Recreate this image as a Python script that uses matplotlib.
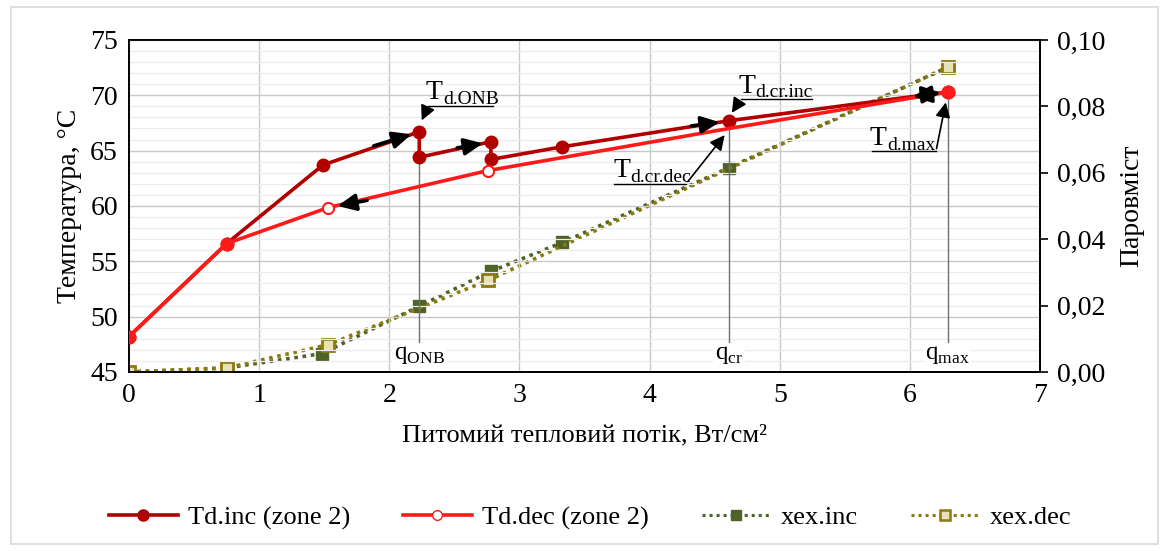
import numpy as np
import matplotlib
matplotlib.use("Agg")
import matplotlib.pyplot as plt
from matplotlib.patches import Rectangle
from matplotlib.lines import Line2D

plt.rcParams['font.family'] = ['Liberation Serif', 'DejaVu Serif']
plt.rcParams['mathtext.fontset'] = 'custom'
plt.rcParams['mathtext.rm'] = 'Liberation Serif'

# data
q_inc = [0, 0.75, 1.49, 2.23, 2.23, 2.78, 2.78, 3.33, 4.61, 6.29]
td_inc = [48.2, 56.6, 63.7, 66.7, 64.4, 65.8, 64.2, 65.35, 67.7, 70.3]
q_dec = [6.29, 4.61, 2.76, 1.53, 0.75, 0]
td_dec = [70.3, 67.0, 63.2, 59.85, 56.6, 48.2]

qx_inc = [0, 0.75, 1.48, 2.23, 2.78, 3.33, 4.61, 6.29]
xex_inc = [0.0, 0.0012, 0.0055, 0.0198, 0.0303, 0.039, 0.0615, 0.0918]
qx_dec = [6.29, 2.76, 1.53, 0.75, 0]
xex_dec = [0.0918, 0.0276, 0.0082, 0.0012, 0.0]

c_inc = '#b00000'
c_dec = '#ff1a1a'
c_xinc = '#4f6228'
c_xdec = '#8a7a10'

fig = plt.figure(figsize=(11.69, 5.51), dpi=100)
fig.patches.append(Rectangle((0.009, 0.012), 0.982, 0.975, transform=fig.transFigure,
                             fill=False, edgecolor='#d9d9d9', lw=1.2))
ax = fig.add_axes([0.1104, 0.325, 0.7793, 0.6025])
ax2 = ax.twinx()

ax.set_xlim(0, 7)
ax.set_ylim(45, 75)
ax2.set_ylim(0, 0.10)
ax.set_xticks(range(0, 8))
ax.set_yticks(range(45, 76, 5))
ax.set_yticks(range(45, 76, 1), minor=True)
ax.grid(which='major', color='#c8c8c8', lw=1.0)
ax.grid(which='minor', axis='y', color='#ececec', lw=0.9)
ax.set_axisbelow(True)
ax.tick_params(axis='both', which='both', length=0, labelsize=20, pad=8)
ax2.set_yticks(np.arange(0, 0.101, 0.02))
ax2.set_yticklabels([f'{v:.2f}'.replace('.', ',') for v in np.arange(0, 0.101, 0.02)])
ax2.tick_params(axis='y', length=6, width=1.2, labelsize=20, pad=6)
for a in (ax, ax2):
    for s in a.spines.values():
        s.set_color('black')
        s.set_linewidth(1.3)

ax.set_xlabel('Питомий тепловий потік, Вт/см²', fontsize=19, labelpad=12)
ax.set_ylabel('Температура, °C', fontsize=20, labelpad=6)
ax2.set_ylabel('Паровміст', fontsize=20, labelpad=10)

# xex on the right axis
ax2.plot(qx_inc, xex_inc, ls=(0, (1, 1.3)), lw=2.6, color=c_xinc, marker='s', ms=8,
         mfc=c_xinc, mec=c_xinc, zorder=3)
ax2.plot(qx_dec, xex_dec, ls=(0.9, (1, 1.3)), lw=2.6, color=c_xdec, marker='s', ms=8,
         mfc='#e8e2b8', mec=c_xdec, mew=2, zorder=4)

# temperatures: move ax above ax2
ax.set_zorder(ax2.get_zorder() + 1)
ax.patch.set_visible(False)

ax.plot(q_inc, td_inc, color=c_inc, lw=2.6, marker='o', ms=9, zorder=3)
ax.plot(q_dec, td_dec, color=c_dec, lw=2.6, marker='o', ms=8, mfc='white', mec=c_dec,
        mew=1.5, markevery=[2, 3], zorder=4)
ax.plot([q_inc[i] for i in (0, 1, 9)], [td_inc[i] for i in (0, 1, 9)], ls='none',
        marker='o', ms=9, color=c_dec, zorder=5)

# vertical lines and q labels
for xq, ytop, lab in [(2.23, 64.4, r'q$_{\mathregular{ONB}}$'), (4.61, 67.7, r'q$_{\mathregular{cr}}$'),
                      (6.29, 69.6, r'q$_{\mathregular{max}}$')]:
    ax.plot([xq, xq], [46.5, ytop], color='#707070', lw=1.0, zorder=2)
    ax.text(xq, 45.5, lab, ha='center', va='bottom', fontsize=18, zorder=6,
            bbox=dict(facecolor='white', edgecolor='none', pad=1))

arr = dict(arrowstyle='-|>,head_length=0.9,head_width=0.45', color='black', lw=1.2)
big = dict(arrowstyle='-|>,head_length=1.1,head_width=0.5', color='black', lw=2.6)
# direction arrows along the curves
ax.annotate('', xy=(2.19, 66.55), xytext=(1.86, 65.35), arrowprops=big, zorder=6)
ax.annotate('', xy=(2.74, 65.7), xytext=(2.5, 65.2), arrowprops=big, zorder=6)
ax.annotate('', xy=(4.56, 67.6), xytext=(4.3, 67.2), arrowprops=big, zorder=6)
ax.annotate('', xy=(1.58, 59.95), xytext=(1.85, 60.55), arrowprops=big, zorder=6)
ax.annotate('', xy=(6.26, 70.25), xytext=(6.1, 70.05), arrowprops=big, zorder=6)
ax.annotate('', xy=(6.0, 69.85), xytext=(6.14, 70.05), arrowprops=big, zorder=6)

# labelled callouts: "T" plus a smaller subscript
def callout(sub, xt, yt, xl0, xl1, ya, xa, ypt):
    ax.text(xt, yt, 'T', fontsize=20, ha='left', va='bottom', zorder=6)
    ax.annotate(sub, xy=(xt, yt), xytext=(12.5, -2), textcoords='offset points',
                fontsize=14, ha='left', va='bottom', zorder=6)
    ax.plot([xl0, xl1], [ya, ya], color='black', lw=1.0, zorder=6)
    return ax.annotate('', xy=xa, xytext=ypt, arrowprops=arr, zorder=6)

callout('d.ONB', 2.28, 69.1, 2.3, 2.8, 69.05, (2.24, 67.5), (2.3, 69.05))
callout('d.cr.inc', 4.68, 69.7, 4.7, 5.25, 69.65, (4.62, 68.2), (4.7, 69.65))
callout('d.cr.dec', 3.72, 62.05, 3.73, 4.28, 62.0, (4.59, 66.6), (4.28, 62.0))
callout('d.max', 5.69, 64.98, 5.71, 6.2, 64.93, (6.28, 69.6), (6.2, 64.93))

handles = [
    Line2D([], [], color=c_inc, lw=2.6, marker='o', ms=8),
    Line2D([], [], color=c_dec, lw=2.6, marker='o', ms=7, mfc='white', mec=c_dec),
    Line2D([], [], color=c_xinc, lw=2.2, ls=(0, (1, 1.3)), marker='s', ms=7),
    Line2D([], [], color=c_xdec, lw=2.2, ls=(0, (1, 1.3)), marker='s', ms=7,
           mfc='#e8e2b8', mec=c_xdec, mew=1.8),
]
labels = ['Td.inc (zone 2)', 'Td.dec (zone 2)', 'xex.inc', 'xex.dec']
fig.legend(handles, labels, loc='center', bbox_to_anchor=(0.505, 0.06), ncol=4,
           frameon=False, prop={'family': 'Liberation Serif', 'size': 19},
           handlelength=2.6, columnspacing=2.0, handletextpad=0.4)

fig.savefig('out.png', dpi=100)
